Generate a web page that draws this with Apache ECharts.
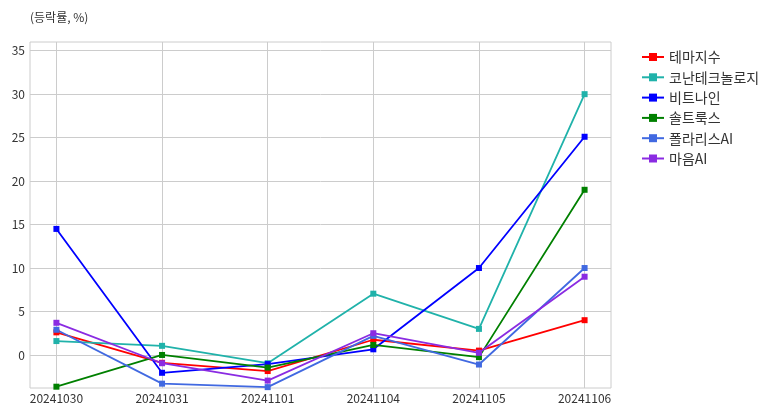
<!DOCTYPE html>
<html><head><meta charset="utf-8">
<script src="https://cdn.jsdelivr.net/npm/echarts@6/dist/echarts.min.js"></script>
<style>html,body{margin:0;padding:0;background:#fff}#c{width:782px;height:416px}</style>
</head><body><div id="c"></div>
<script>
const categories = ['20241030','20241031','20241101','20241104','20241105','20241106'];
const yTicks = [0,5,10,15,20,25,30,35];
const seriesNames = ['테마지수','코난테크놀로지','비트나인','솔트룩스','폴라리스AI','마음AI'];
const s_theme   = [2.6, -0.9, -1.85, 1.75, 0.5, 4.0];
const s_konan   = [1.6, 1.05, -0.95, 7.05, 3.0, 30.0];
const s_bitnine = [14.5, -2.05, -1.05, 0.65, 10.0, 25.1];
const s_saltlux = [-3.65, 0.0, -1.45, 1.15, -0.25, 19.0];
const s_polaris = [2.9, -3.3, -3.7, 2.2, -1.1, 10.0];
const s_maum    = [3.7, -0.95, -2.95, 2.5, 0.25, 9.0];
const colors = ['#ff0000','#20b2aa','#0000ff','#008000','#4169e1','#8a2be2'];
const allSeries = [s_theme, s_konan, s_bitnine, s_saltlux, s_polaris, s_maum];

const font = '"Noto Sans CJK KR", "Noto Sans", sans-serif';
const chart = echarts.init(document.getElementById('c'), null, {renderer:'canvas'});
const xIdx = categories.map((c,i)=>i);
chart.setOption({
  animation: false,
  textStyle: {fontFamily: font},
  title: {text: '(등락률, %)', left: 25, top: 6, textStyle: {fontSize: 12, fontWeight: 'normal', color: '#333', fontFamily: font}},
  grid: {left: 30, right: 171, top: 42, bottom: 28, show: true, borderColor: '#cccccc', borderWidth: 1, containLabel: false},
  legend: {
    orient: 'vertical', left: 636, top: 45, itemWidth: 22, itemHeight: 10, itemGap: 6.3,
    textStyle: {fontSize: 14, color: '#333', fontFamily: font},
    data: seriesNames
  },
  xAxis: {
    type: 'value', min: -0.25, max: 5.25,
    axisLine: {show: false},
    axisTick: {show: false, customValues: xIdx},
    axisLabel: {customValues: xIdx, formatter: v => categories[Math.round(v)], fontSize: 12, color: '#333', margin: 4, fontFamily: font},
    splitLine: {show: true, lineStyle: {color: '#cccccc', width: 1}}
  },
  yAxis: {
    type: 'value', min: -3.8, max: 36,
    axisLine: {show: false},
    axisTick: {show: false, customValues: yTicks},
    axisLabel: {customValues: yTicks, fontSize: 12, color: '#333', margin: 5, fontFamily: font},
    splitLine: {show: true, lineStyle: {color: '#cccccc', width: 1}}
  },
  series: allSeries.map((arr, k) => ({
    name: seriesNames[k], type: 'line',
    data: arr.map((v,i)=>[i,v]),
    symbol: 'rect', symbolSize: 6, showSymbol: true,
    lineStyle: {color: colors[k], width: 1.8},
    itemStyle: {color: colors[k]},
    clip: true
  }))
});
</script></body></html>
